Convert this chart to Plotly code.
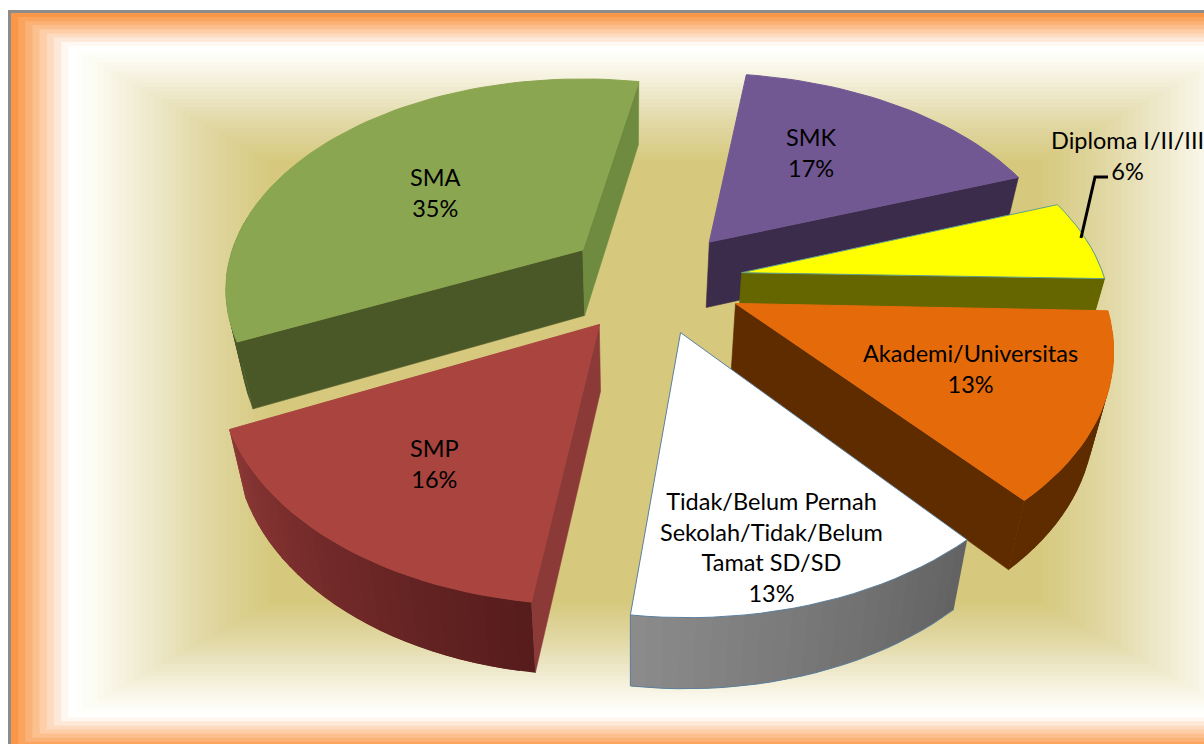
import math
import plotly.graph_objects as go

# ---- data ----
categories = ["Tidak/Belum Pernah<br>Sekolah/Tidak/Belum<br>Tamat SD/SD", "SMP", "SMA", "SMK", "Diploma I/II/III", "Akademi/Universitas"]
values = [13, 16, 35, 17, 6, 13]

# ---- style: one entry per category ----
top_colors = ["#ffffff", "#a9443f", "#8ba650", "#725893", "#ffff00", "#e56b0a"]
edge_colors = ["#5b7f9e", None, None, None, "#5f9f90", None]
wall_outline = [True, False, False, False, False, False]
rim_colors = [("#626262", "#8c8c8c"), ("#561c1c", "#8b3735"), ("#4a5828", "#4a5828"),
              ("#3a2c4a", "#3a2c4a"), ("#666600", "#666600"), ("#5f2c00", "#5f2c00")]
wall_start = [None, "#8b3a38", "#4a5828", None, None, None]
wall_end = [None, None, "#6f8b3f", "#3a2c4a", "#666600", "#5f2c00"]
paint_order = [3, 2, 4, 5, 1, 0]
label_xy = [(771, 547), (434, 463), (435, 192), (811, 152), (1127, 155), (970, 368)]

# ---- view of the 3D pie ----
START = 50.5
CX, CY, RX, RY, PERSP, EXPLODE = 653, 281, 360, 212, 0.18, 0.245
EXPLODE_X = 0.25
TILT = 0.022
VX, DEPTH = 630, 66

def top_point(ang, radius, mid):
    a, m = math.radians(ang), math.radians(mid)
    u = EXPLODE_X * math.cos(m) + radius * math.cos(a)
    v = EXPLODE * math.sin(m) + radius * math.sin(a)
    s = 1 / (1 - PERSP * v)
    x = CX + RX * u * s - 3 * v * v + 7 * v
    tilt = TILT * min(1, max(0, 1 - 0.7 * v))
    return x, CY + RY * v * s - tilt * max(x - CX, 0)

def bottom_point(p):
    x, y = p
    return x + (VX - x) * 0.04, y + DEPTH + (y - 280) * 0.015

def mix(c0, c1, t):
    a = [int(c0[i:i + 2], 16) for i in (1, 3, 5)]
    b = [int(c1[i:i + 2], 16) for i in (1, 3, 5)]
    return "rgb(%d,%d,%d)" % tuple(round(a[i] + (b[i] - a[i]) * t) for i in range(3))

fig = go.Figure()

def poly(points, fill, line=None, width=0.6, name=""):
    fig.add_trace(go.Scatter(x=[p[0] for p in points] + [points[0][0]],
                             y=[p[1] for p in points] + [points[0][1]],
                             mode="lines", fill="toself", fillcolor=fill,
                             line=dict(color=line or fill, width=width),
                             hoverinfo="skip", showlegend=False, name=name))

# angular extent from the values
spans = []
angle = START
total = sum(values)
for val in values:
    spans.append((angle, angle + 360 * val / total))
    angle += 360 * val / total

for i in paint_order:
    a0, a1 = spans[i]
    mid = (a0 + a1) / 2
    n = max(4, int((a1 - a0) / 2))
    rim = [top_point(a0 + (a1 - a0) * k / n, 1, mid) for k in range(n + 1)]
    apex = top_point(mid, 0, mid)
    if wall_start[i]:
        poly([apex, rim[0], bottom_point(rim[0]), bottom_point(apex)], wall_start[i])
    if wall_end[i]:
        poly([apex, rim[-1], bottom_point(rim[-1]), bottom_point(apex)], wall_end[i])
    # each quad overlaps the previous one so that no seams show
    for k in range(n):
        if math.sin(math.radians(a0 + (a1 - a0) * k / n)) < -0.15:
            continue
        col = mix(rim_colors[i][0], rim_colors[i][1], (k + 0.5) / n)
        strip = rim[k:min(k + 2, n) + 1]
        poly(strip + [bottom_point(p) for p in reversed(strip)], col, width=0)
    if wall_outline[i]:
        outline = [bottom_point(p) for p in rim] + [rim[-1]]
        fig.add_trace(go.Scatter(x=[p[0] for p in outline], y=[p[1] for p in outline], mode="lines",
                                 line=dict(color=edge_colors[i], width=1), hoverinfo="skip", showlegend=False))
    poly([apex] + rim, top_colors[i], line=edge_colors[i], width=1, name=categories[i].replace("<br>", " "))

# background: framed rectangular gradient
FX0, FX1, FY0, FY1 = 11, 1300, 13, 750
stops = [(0, (250, 150, 70)), (0.084, (255, 255, 255)), (0.12, (253, 252, 244)), (0.2, (240, 235, 208)),
         (0.3, (224, 215, 162)), (0.4, (214, 200, 125)), (1, (214, 200, 125))]
def bg(p):
    for (p0, c0), (p1, c1) in zip(stops, stops[1:]):
        if p <= p1:
            t = (p - p0) / (p1 - p0)
            return "rgb(%d,%d,%d)" % tuple(round(c0[j] + (c1[j] - c0[j]) * t) for j in range(3))
    return "rgb(%d,%d,%d)" % stops[-1][1]

shapes = [dict(type="rect", xref="x", yref="y", x0=8, x1=1310, y0=10, y1=760, fillcolor="#8c8c8c",
               line=dict(width=0), layer="below")]
bands = 90
for b in range(bands):
    p = b / bands
    dx, dy = (FX1 - FX0) / 2 * p, (FY1 - FY0) / 2 * p
    shapes.append(dict(type="rect", xref="x", yref="y", x0=FX0 + dx, x1=FX1 - dx, y0=FY0 + dy, y1=FY1 - dy,
                       fillcolor=bg(p), line=dict(width=0), layer="below"))
leader_x, leader_y = [1081, 1095, 1108], [238, 177, 177]
fig.add_trace(go.Scatter(x=leader_x, y=leader_y, mode="lines", line=dict(color="#000000", width=3),
                         hoverinfo="skip", showlegend=False))

annotations = []
for name, val, (x, y) in zip(categories, values, label_xy):
    annotations.append(dict(x=x, y=y, xref="x", yref="y", text=f"{name}<br>{val}%", showarrow=False,
                            font=dict(family="Lato", size=23.5, color="#000000"), align="center"))

fig.update_layout(width=1204, height=744, margin=dict(l=0, r=0, t=0, b=0), autosize=False,
                  paper_bgcolor="#ffffff", plot_bgcolor="rgba(0,0,0,0)", showlegend=False,
                  xaxis=dict(range=[0, 1204], visible=False, fixedrange=True),
                  yaxis=dict(range=[744, 0], visible=False, fixedrange=True),
                  shapes=shapes, annotations=annotations)
fig.write_html("out.html", config=dict(displayModeBar=False),
               post_script="document.body.style.margin='0';document.body.style.overflow='hidden';")
